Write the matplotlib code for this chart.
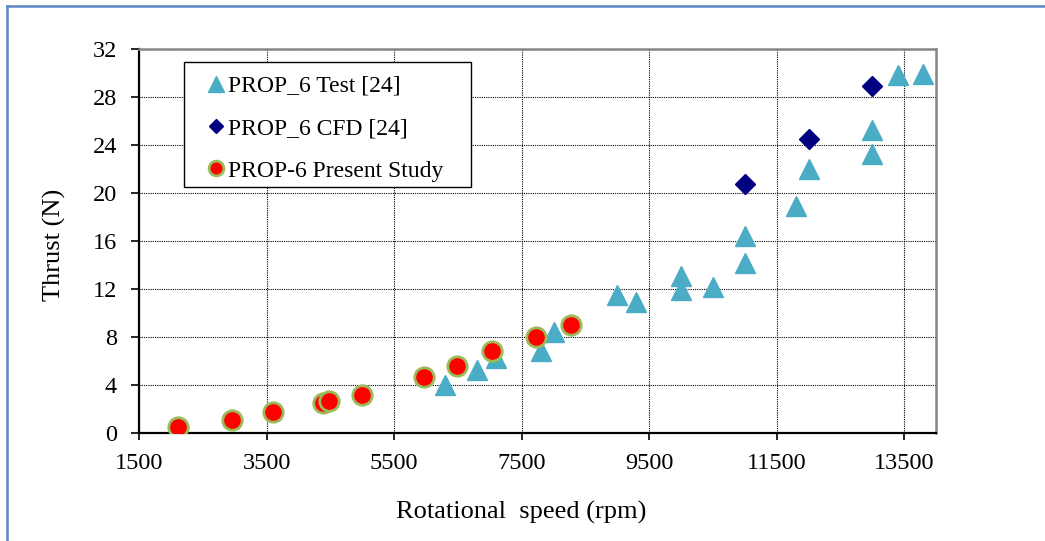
import matplotlib
matplotlib.use("Agg")
import matplotlib.pyplot as plt
from matplotlib.lines import Line2D
from matplotlib.patches import Rectangle

plt.rcParams['font.family'] = ['Liberation Serif', 'DejaVu Serif']

# Rotational speed (rpm) and thrust (N) for each series
test_rpm = [6300, 6800, 7100, 7800, 8000, 9000, 9300, 10000, 10000, 10500,
            11000, 11000, 11800, 12000, 13000, 13000, 13400, 13800]
test_thrust = [4.05, 5.25, 6.25, 6.85, 8.4, 11.55, 10.95, 13.1, 11.95, 12.15,
               14.2, 16.45, 18.9, 22.0, 23.3, 25.3, 29.85, 29.95]

cfd_rpm = [11000, 12000, 13000]
cfd_thrust = [20.8, 24.5, 28.9]

present_rpm = [2100, 2950, 3600, 4390, 4470, 5000, 5970, 6490, 7040, 7720, 8270]
present_thrust = [0.5, 1.1, 1.75, 2.55, 2.72, 3.2, 4.67, 5.6, 6.86, 8.05, 9.0]

x_ticks = [1500, 3500, 5500, 7500, 9500, 11500, 13500]
y_ticks = [0, 4, 8, 12, 16, 20, 24, 28, 32]

fig = plt.figure(figsize=(10.45, 5.41), dpi=100)
ax = fig.add_axes([0.1333, 0.1991, 0.7624, 0.7098])

ax.plot(test_rpm, test_thrust, linestyle='none', marker='^', ms=14.5,
        color='#4BACC6', mec='#4BACC6', label='PROP_6 Test [24]', zorder=3)
ax.plot(cfd_rpm, cfd_thrust, linestyle='none', marker='D', ms=10,
        color='#000080', mec='#000080', label='PROP_6 CFD [24]', zorder=4)
ax.plot(present_rpm, present_thrust, linestyle='none', marker='o', ms=14,
        mfc='#FF0000', mec='#9BBB59', mew=2, label='PROP-6 Present Study',
        zorder=5)

ax.set_xlim(1500, 14000)
ax.set_ylim(0, 32)
ax.set_xticks(x_ticks)
ax.set_yticks(y_ticks)
ax.tick_params(axis='both', labelsize=17.5, direction='out', color='black')
ax.tick_params(axis='x', length=5, width=1.2, pad=9)
ax.tick_params(axis='y', length=6, width=1.2, pad=10)

ax.grid(True, color='black', linestyle=(0, (1, 1)), linewidth=0.8, zorder=1)
ax.set_axisbelow(True)

for side in ('left', 'bottom'):
    ax.spines[side].set_color('black')
    ax.spines[side].set_linewidth(1.6)
for side in ('top', 'right'):
    ax.spines[side].set_color('#868686')
    ax.spines[side].set_linewidth(1.8)

ax.set_xlabel('Rotational  speed (rpm)', fontsize=19)
ax.set_ylabel('Thrust (N)', fontsize=19)
ax.xaxis.set_label_coords(0.479, -0.177)
ax.yaxis.set_label_coords(-0.092, 0.49)

# Legend box with its entries inset from the left edge
ax.add_patch(Rectangle((0.0565, 0.6406), 0.360, 0.3255, transform=ax.transAxes,
                       facecolor='white', edgecolor='black', linewidth=1.0,
                       zorder=6))
leg = ax.legend(loc='upper left', bbox_to_anchor=(0.0859, 0.932),
                fontsize=17, frameon=False, markerscale=0.76,
                handlelength=0.7, handletextpad=0.15, labelspacing=0.88,
                borderpad=0, borderaxespad=0)
leg.set_zorder(7)

# Page frame drawn in figure coordinates
fig.add_artist(Line2D([7 / 1045, 1.0], [1 - 5.5 / 541, 1 - 5.5 / 541],
                      transform=fig.transFigure, color='#5B87C5', lw=1.8))
fig.add_artist(Line2D([7 / 1045, 7 / 1045], [0.0, 1 - 5.5 / 541],
                      transform=fig.transFigure, color='#5B87C5', lw=1.8))

fig.savefig('out.png', dpi=100)
